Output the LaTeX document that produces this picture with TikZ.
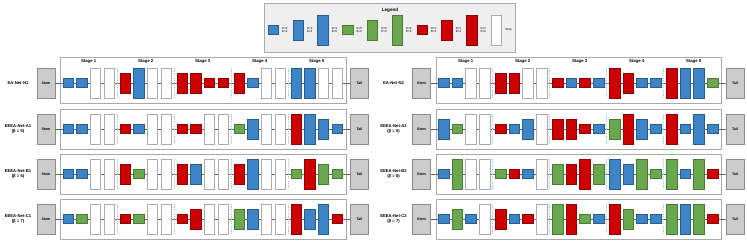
\documentclass[tikz,border=0pt]{standalone}
\usepackage{fontspec}
\setmainfont{Liberation Sans}
\definecolor{cb}{HTML}{3D85C6}\definecolor{cbd}{HTML}{2A5D8F}
\definecolor{cg}{HTML}{6AA84F}\definecolor{cgd}{HTML}{4A7A36}
\definecolor{cr}{HTML}{CC0000}\definecolor{crd}{HTML}{8E0000}
\definecolor{fr}{HTML}{AAAAAA}
\definecolor{sepc}{HTML}{A4C2F4}
\definecolor{grf}{HTML}{CCCCCC}
\definecolor{legf}{HTML}{EFEFEF}
\definecolor{conc}{HTML}{666666}
\newcommand\netrow[6]{% #1 prefix, #2 xoff, #3 yc, #4 label, #5 list, #6 frame top
  \draw[framebox] (#2+60.5,#6) rectangle (#2+346,#3+20.5);
  \node[endbox] (#1stem) at (#2+46,#3) {Stem};
  \node[endbox] (#1tail) at (#2+359.5,#3) {Tail};
  \node[lbl] (#1lab) at (#2+18,#3) {#4};
  \draw[conn] (#1stem) -- (#1tail);
  \foreach \s in {1,...,4} \draw[sepl] (#2+60+57*\s,#3-15) -- (#2+60+57*\s,#3+15);
  \foreach \c [count=\i from 0] in {#5} {
    \pgfmathsetmacro\xx{#2+63+57*int(\i/4)+13.6*mod(\i,4)+5.25}
    \node[b\c] (#1b\i) at (\xx,#3) {};
  }
}
\begin{document}
\begin{tikzpicture}[x=1pt,y=-1pt,
  blk/.style={draw, line width=0.5pt, minimum width=10.5pt, inner sep=0pt, outer sep=0pt},
  hS/.style={minimum height=9.5pt}, hM/.style={minimum height=20pt}, hT/.style={minimum height=30pt},
  bBS/.style={blk,hS,fill=cb,draw=cbd}, bBM/.style={blk,hM,fill=cb,draw=cbd}, bBT/.style={blk,hT,fill=cb,draw=cbd},
  bGS/.style={blk,hS,fill=cg,draw=cgd}, bGM/.style={blk,hM,fill=cg,draw=cgd}, bGT/.style={blk,hT,fill=cg,draw=cgd},
  bRS/.style={blk,hS,fill=cr,draw=crd}, bRM/.style={blk,hM,fill=cr,draw=crd}, bRT/.style={blk,hT,fill=cr,draw=crd},
  bW/.style={blk,hT,fill=white,draw=fr},
  endbox/.style={draw=gray!90, line width=0.6pt, fill=grf, minimum width=18pt, minimum height=30pt, inner sep=0pt, font=\fontsize{3.6}{4}\selectfont\bfseries},
  framebox/.style={draw=fr, line width=0.8pt, fill=white},
  lbl/.style={font=\fontsize{4.2}{5}\selectfont\bfseries, align=center, inner sep=0pt},
  stg/.style={font=\fontsize{4.3}{5}\selectfont\bfseries, inner sep=0pt},
  legt/.style={font=\fontsize{2.9}{3.4}\selectfont\bfseries, align=left, anchor=west, inner sep=0pt, text=black!75},
  conn/.style={draw=conc, line width=0.7pt},
  sepl/.style={draw=sepc, line width=0.5pt, dash pattern=on 1.2pt off 1.2pt},
]
\useasboundingbox (0,0) rectangle (747,248);
% Legend
\draw[draw=fr, line width=0.8pt, fill=legf] (264,3) rectangle (515,52);
\node[font=\fontsize{4.6}{5}\selectfont\bfseries] (legtitle) at (390,10) {Legend};
\foreach \c/\t [count=\k from 0] in {BS/{K=3\\E=3},BM/{K=3\\E=4},BT/{K=3\\E=6},GS/{K=5\\E=3},GM/{K=5\\E=4},GT/{K=5\\E=6},RS/{K=7\\E=3},RM/{K=7\\E=4},RT/{K=7\\E=6},W/{Skip}} {
  \pgfmathsetmacro\lx{268+24.8*\k+5.25}
  \node[b\c] (leg\k) at (\lx,30) {};
  \node[legt] (legtxt\k) at ([xshift=3.5pt]leg\k.east) {\t};
}
% Left panel
\netrow{La}{0}{83}{EA-Net-N1}{BS,BS,W,W,RM,BT,W,W,RM,RM,RS,RS,RM,BS,W,W,BT,BT,W,W}{57}
\netrow{Lb}{0}{129}{EEEA-Net-A1\\(β = 5)}{BS,BS,W,W,RS,BS,W,W,RS,RS,W,W,GS,BM,W,W,RT,BT,BM,BS}{109}
\netrow{Lc}{0}{174}{EEEA-Net-B1\\(β = 6)}{BS,BS,W,W,RM,GS,W,W,RM,BM,W,W,RM,BT,W,W,GS,RT,GM,GS}{154}
\netrow{Ld}{0}{219}{EEEA-Net-C1\\(β = 7)}{BS,GS,W,W,RS,GS,W,W,RS,RM,W,W,GM,BM,W,W,RT,BM,BT,RS}{199}
% Right panel
\netrow{Ra}{375.5}{83}{EA-Net-N2}{BS,BS,W,W,RM,RM,W,W,RS,BS,RS,BS,RT,RM,BS,BS,RT,BT,BT,GS}{57}
\netrow{Rb}{375.5}{129}{EEEA-Net-A2\\(β = 5)}{BM,GS,W,W,RS,BS,BM,W,RM,RM,RS,BS,GM,RT,BM,BS,RT,BS,BT,BS}{109}
\netrow{Rc}{375.5}{174}{EEEA-Net-B2\\(β = 6)}{BS,GT,W,W,GS,RS,BS,W,GM,RM,RT,GM,BT,BM,GT,GS,GT,BS,GT,RS}{154}
\netrow{Rd}{375.5}{219}{EEEA-Net-C2\\(β = 7)}{BS,GM,BS,W,RM,BS,RS,W,GT,RT,GS,BS,RT,GM,BS,BS,GT,BT,GT,RS}{199}
% Stage labels
\foreach \off/\p in {0/L,377/R} {
  \foreach \s in {1,...,5} {
    \pgfmathsetmacro\sx{\off+63+57*(\s-1)+25.65}
    \node[stg] (stage\p\s) at (\sx,61) {Stage \s};
  }
}
\end{tikzpicture}
\end{document}
